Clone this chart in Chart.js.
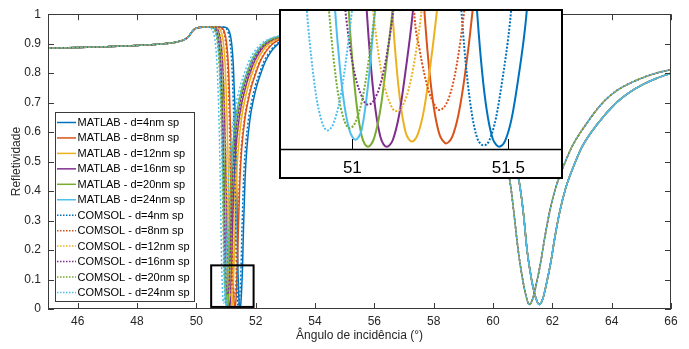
<!DOCTYPE html>
<html><head><meta charset="utf-8">
<script src="https://cdn.jsdelivr.net/npm/chart.js@4.4.0/dist/chart.umd.min.js"></script>
<style>
html,body{margin:0;padding:0;background:#fff;}
#wrap{position:relative;width:689px;height:349px;overflow:hidden;}
#main{position:absolute;left:0;top:0;}
#inset{position:absolute;left:279px;top:9px;}
</style></head><body>
<div id="wrap"><canvas id="main" width="689" height="349"></canvas><canvas id="inset" width="284" height="170"></canvas></div>
<script>
// ---------- data ----------
const xTicks = [46, 48, 50, 52, 54, 56, 58, 60, 62, 64, 66];
const yTicks = [0, 0.1, 0.2, 0.3, 0.4, 0.5, 0.6, 0.7, 0.8, 0.9, 1];
const insetTicks = [51, 51.5];
const xTitle = 'Ângulo de incidência (°)';
const yTitle = 'Refletividade';
const seriesLabels = [
  'MATLAB - d=4nm sp', 'MATLAB - d=8nm sp', 'MATLAB - d=12nm sp',
  'MATLAB - d=16nm sp', 'MATLAB - d=20nm sp', 'MATLAB - d=24nm sp',
  'COMSOL - d=4nm sp', 'COMSOL - d=8nm sp', 'COMSOL - d=12nm sp',
  'COMSOL - d=16nm sp', 'COMSOL - d=20nm sp', 'COMSOL - d=24nm sp'
];
const seriesColors = ['#0072BD', '#D95319', '#EDB120', '#7E2F8E', '#77AC30', '#4DBEEE'];

// common shoulder before the first resonance
const leftAngles = [45, 46, 47, 48, 48.8, 49.3, 49.6, 49.75, 49.85, 49.95, 50.1, 50.3];
const leftRefl   = [0.885, 0.887, 0.890, 0.894, 0.899, 0.905, 0.914, 0.925, 0.940, 0.950, 0.955, 0.957];

// first resonance: angle offsets from each curve's minimum
const dipOffsets = [-0.50, -0.42, -0.35, -0.28, -0.22, -0.17, -0.13, -0.10, -0.08, -0.065, -0.05, -0.035, -0.02, -0.01, 0,
  0.01, 0.02, 0.04, 0.06, 0.085, 0.12, 0.17, 0.23, 0.34, 0.45, 0.57, 0.70, 0.85, 1.05, 1.25, 1.45, 1.65, 1.85];
const matlabCenters = [51.47, 51.30, 51.19, 51.11, 51.05, 51.01];
const comsolCenters = [51.42, 51.28, 51.14, 51.05, 50.99, 50.92];

const matlabDip4  = [0.956, 0.952, 0.939, 0.902, 0.822, 0.685, 0.520, 0.350, 0.200, 0.125, 0.070, 0.033, 0.011, 0.005, 0.0025, 0.004, 0.009, 0.032, 0.072, 0.135, 0.275, 0.435, 0.540, 0.645, 0.707, 0.758, 0.798, 0.838, 0.873, 0.896, 0.910, 0.918, 0.923];
const matlabDip8  = [0.956, 0.952, 0.939, 0.903, 0.825, 0.690, 0.530, 0.360, 0.210, 0.130, 0.074, 0.037, 0.015, 0.009, 0.006, 0.008, 0.013, 0.037, 0.078, 0.148, 0.285, 0.440, 0.543, 0.647, 0.708, 0.759, 0.799, 0.839, 0.874, 0.897, 0.911, 0.919, 0.924];
const matlabDip12 = [0.956, 0.952, 0.940, 0.905, 0.830, 0.700, 0.550, 0.390, 0.260, 0.165, 0.095, 0.047, 0.019, 0.011, 0.008, 0.010, 0.016, 0.043, 0.090, 0.162, 0.300, 0.450, 0.550, 0.650, 0.710, 0.760, 0.800, 0.840, 0.875, 0.898, 0.912, 0.920, 0.925];
const matlabDip16 = [0.956, 0.952, 0.940, 0.905, 0.830, 0.700, 0.550, 0.390, 0.255, 0.155, 0.087, 0.040, 0.013, 0.005, 0.0025, 0.0045, 0.010, 0.037, 0.083, 0.152, 0.298, 0.450, 0.550, 0.650, 0.710, 0.760, 0.800, 0.840, 0.875, 0.898, 0.912, 0.920, 0.926];
const matlabDip20 = [0.956, 0.952, 0.941, 0.907, 0.835, 0.710, 0.565, 0.405, 0.275, 0.168, 0.095, 0.044, 0.014, 0.005, 0.0025, 0.005, 0.012, 0.043, 0.095, 0.170, 0.315, 0.460, 0.556, 0.654, 0.713, 0.762, 0.802, 0.842, 0.876, 0.899, 0.913, 0.921, 0.926];
const matlabDip24 = [0.956, 0.952, 0.940, 0.904, 0.828, 0.695, 0.540, 0.375, 0.235, 0.148, 0.088, 0.046, 0.021, 0.013, 0.010, 0.013, 0.021, 0.068, 0.140, 0.225, 0.340, 0.475, 0.565, 0.660, 0.717, 0.765, 0.804, 0.843, 0.877, 0.900, 0.914, 0.922, 0.927];
const comsolDip4  = [0.956, 0.952, 0.939, 0.902, 0.822, 0.685, 0.520, 0.350, 0.200, 0.125, 0.071, 0.034, 0.012, 0.006, 0.004, 0.005, 0.010, 0.033, 0.073, 0.136, 0.275, 0.435, 0.540, 0.645, 0.707, 0.758, 0.798, 0.838, 0.873, 0.896, 0.910, 0.918, 0.923];
const comsolDip8  = [0.956, 0.951, 0.936, 0.893, 0.805, 0.650, 0.465, 0.255, 0.140, 0.108, 0.082, 0.062, 0.050, 0.044, 0.042, 0.044, 0.048, 0.067, 0.102, 0.168, 0.290, 0.438, 0.543, 0.646, 0.708, 0.758, 0.798, 0.838, 0.873, 0.897, 0.911, 0.919, 0.924];
const comsolDip12 = [0.956, 0.951, 0.937, 0.895, 0.810, 0.660, 0.480, 0.300, 0.175, 0.125, 0.089, 0.065, 0.050, 0.043, 0.041, 0.042, 0.046, 0.064, 0.097, 0.158, 0.280, 0.430, 0.540, 0.645, 0.708, 0.758, 0.798, 0.838, 0.873, 0.897, 0.911, 0.919, 0.924];
const comsolDip16 = [0.956, 0.951, 0.937, 0.895, 0.810, 0.660, 0.480, 0.300, 0.178, 0.128, 0.094, 0.071, 0.057, 0.050, 0.048, 0.049, 0.053, 0.070, 0.101, 0.160, 0.280, 0.430, 0.540, 0.645, 0.708, 0.758, 0.798, 0.838, 0.873, 0.897, 0.911, 0.919, 0.924];
const comsolDip20 = [0.956, 0.952, 0.939, 0.902, 0.822, 0.685, 0.520, 0.350, 0.220, 0.150, 0.097, 0.058, 0.035, 0.026, 0.0225, 0.024, 0.029, 0.051, 0.090, 0.158, 0.290, 0.440, 0.545, 0.648, 0.709, 0.759, 0.799, 0.839, 0.874, 0.897, 0.911, 0.919, 0.924];
const comsolDip24 = [0.956, 0.952, 0.939, 0.903, 0.824, 0.688, 0.525, 0.355, 0.225, 0.146, 0.094, 0.055, 0.032, 0.023, 0.020, 0.022, 0.028, 0.053, 0.097, 0.170, 0.300, 0.448, 0.550, 0.652, 0.711, 0.760, 0.800, 0.840, 0.875, 0.898, 0.912, 0.920, 0.925];

// second resonance (same for every thickness)
const tailAnglesMatlab = [53.5, 54, 55, 56, 57, 58, 58.8, 59.5, 60.1, 60.6, 60.88, 61.03, 61.15, 61.30, 61.42, 61.56, 61.68, 61.80, 61.95, 62.08, 62.25, 62.45, 62.70, 63.0, 63.5, 64.16, 64.6, 65.06, 65.5, 66.0];
const tailReflMatlab   = [0.928, 0.931, 0.930, 0.923, 0.908, 0.875, 0.825, 0.75, 0.64, 0.53, 0.433, 0.32, 0.198, 0.10, 0.045, 0.015, 0.035, 0.085, 0.16, 0.24, 0.33, 0.41, 0.48, 0.55, 0.625, 0.70, 0.735, 0.762, 0.782, 0.80];
const tailAnglesComsol = [53.5, 54, 55, 56, 57, 58, 58.8, 59.4, 59.9, 60.3, 60.57, 60.70, 60.85, 61.00, 61.10, 61.22, 61.34, 61.46, 61.61, 61.74, 61.91, 62.11, 62.36, 62.66, 63.16, 63.7, 64.16, 64.6, 65.06, 65.5, 66.0];
const tailReflComsol   = [0.929, 0.932, 0.930, 0.922, 0.905, 0.870, 0.81, 0.73, 0.63, 0.52, 0.433, 0.33, 0.198, 0.10, 0.05, 0.015, 0.035, 0.085, 0.16, 0.24, 0.33, 0.41, 0.48, 0.55, 0.63, 0.70, 0.74, 0.765, 0.785, 0.80, 0.812];

// zoom rectangle (data units) and inset range
const zoomBox = [50.50, 51.93, 0.007, 0.148];
const insetRange = [50.768, 51.672, 0, 0.15];

// ---------- build ----------
const matlabDips = [matlabDip4, matlabDip8, matlabDip12, matlabDip16, matlabDip20, matlabDip24];
const comsolDips = [comsolDip4, comsolDip8, comsolDip12, comsolDip16, comsolDip20, comsolDip24];

function buildSeries(center, dip, tailA, tailR) {
  const pts = [];
  leftAngles.forEach((a, i) => pts.push({x: a, y: leftRefl[i]}));
  dipOffsets.forEach((o, i) => pts.push({x: +(center + o).toFixed(4), y: dip[i]}));
  tailA.forEach((a, i) => pts.push({x: a, y: tailR[i]}));
  return pts;
}
const allSeries = [];
for (let i = 0; i < 6; i++) allSeries.push(buildSeries(matlabCenters[i], matlabDips[i], tailAnglesMatlab, tailReflMatlab));
for (let i = 0; i < 6; i++) allSeries.push(buildSeries(comsolCenters[i], comsolDips[i], tailAnglesComsol, tailReflComsol));

function makeDatasets(width, dash) {
  return allSeries.map((pts, k) => {
    const comsol = k >= 6;
    return {
      label: seriesLabels[k],
      data: pts,
      borderColor: seriesColors[k % 6],
      backgroundColor: seriesColors[k % 6],
      borderWidth: width,
      borderDash: comsol ? dash : [],
      borderDashOffset: comsol ? (k % 6) * 0.7 : 0,
      pointRadius: 0,
      fill: false,
      tension: 0.4,
      cubicInterpolationMode: 'monotone',
      order: 11 - k
    };
  });
}

Chart.defaults.font.family = '"Liberation Sans", Arial, Helvetica, sans-serif';
Chart.defaults.color = '#262626';

const FONT = '"Liberation Sans", Arial, Helvetica, sans-serif';

const mainDecor = {
  id: 'mainDecor',
  beforeDraw(chart) {
    const c = chart.ctx;
    c.save(); c.fillStyle = '#fff'; c.fillRect(0, 0, chart.width, chart.height); c.restore();
  },
  afterDraw(chart) {
    const c = chart.ctx, a = chart.chartArea, xs = chart.scales.x, ys = chart.scales.y;
    c.save();
    c.strokeStyle = '#3a3a3a'; c.lineWidth = 1;
    c.strokeRect(Math.round(a.left) + 0.5, Math.round(a.top) + 0.5, Math.round(a.right - a.left) - 1, Math.round(a.bottom - a.top) - 1);
    c.beginPath();
    xTicks.forEach(v => {
      const px = Math.round(xs.getPixelForValue(v)) + 0.5;
      c.moveTo(px, a.bottom); c.lineTo(px, a.bottom - 6);
      c.moveTo(px, a.top); c.lineTo(px, a.top + 6);
    });
    yTicks.forEach(v => {
      const py = Math.round(ys.getPixelForValue(v)) + 0.5;
      c.moveTo(a.left, py); c.lineTo(a.left + 6, py);
      c.moveTo(a.right, py); c.lineTo(a.right - 6, py);
    });
    c.stroke();
    // zoom rectangle
    c.strokeStyle = '#000'; c.lineWidth = 2;
    const rx0 = xs.getPixelForValue(zoomBox[0]), rx1 = xs.getPixelForValue(zoomBox[1]);
    const ry0 = ys.getPixelForValue(zoomBox[3]), ry1 = ys.getPixelForValue(zoomBox[2]);
    c.strokeRect(rx0, ry0, rx1 - rx0, ry1 - ry0);
    // legend
    const lx = 55.5, ly = 112.5, lw = 139, lh = 189;
    c.fillStyle = '#fff'; c.fillRect(lx, ly, lw, lh);
    c.strokeStyle = '#3a3a3a'; c.lineWidth = 1; c.strokeRect(lx, ly, lw, lh);
    c.font = '11px ' + FONT; c.textBaseline = 'middle'; c.textAlign = 'left';
    chart.data.datasets.forEach((ds, i) => {
      const yy = 122.5 + i * 15.45;
      c.strokeStyle = ds.borderColor; c.lineWidth = 1.5;
      c.setLineDash(ds.borderDash.length ? [1.5, 1.5] : []);
      c.beginPath(); c.moveTo(57, yy); c.lineTo(76, yy); c.stroke();
      c.setLineDash([]);
      c.fillStyle = '#000';
      c.fillText(ds.label, 77.5, yy + 0.5);
    });
    c.restore();
  }
};

new Chart(document.getElementById('main'), {
  type: 'line',
  data: {datasets: makeDatasets(1.5, [2, 2])},
  options: {
    responsive: false, animation: false, devicePixelRatio: 1,
    layout: {padding: {left: 0, right: 18, top: 10, bottom: 0}},
    plugins: {legend: {display: false}, tooltip: {enabled: false}},
    scales: {
      x: {
        type: 'linear', min: 45, max: 66,
        grid: {display: false, drawTicks: false}, border: {display: false},
        afterBuildTicks: s => { s.ticks = xTicks.map(v => ({value: v})); },
        afterFit: s => { s.height = 40; },
        ticks: {font: {size: 12}, padding: 5, color: '#262626', maxRotation: 0, autoSkip: false, callback: v => String(v)},
        title: {display: true, text: xTitle, font: {size: 12}, color: '#262626', padding: {top: 0, bottom: 6}}
      },
      y: {
        type: 'linear', min: 0, max: 1,
        grid: {display: false, drawTicks: false}, border: {display: false},
        afterBuildTicks: s => { s.ticks = yTicks.map(v => ({value: v})); },
        afterFit: s => { s.width = 48; },
        ticks: {font: {size: 12}, padding: 7, color: '#262626', autoSkip: false, callback: v => String(+v.toFixed(1))},
        title: {display: true, text: yTitle, font: {size: 12}, color: '#262626', padding: {top: 9, bottom: 0}}
      }
    }
  },
  plugins: [mainDecor]
});

const insetDecor = {
  id: 'insetDecor',
  beforeDraw(chart) {
    const c = chart.ctx;
    c.save(); c.fillStyle = '#fff'; c.fillRect(0, 0, chart.width, chart.height); c.restore();
  },
  afterDraw(chart) {
    const c = chart.ctx, a = chart.chartArea, xs = chart.scales.x;
    c.save();
    c.strokeStyle = '#000';
    c.lineWidth = 1.4;
    c.beginPath(); c.moveTo(0, a.bottom + 0.5); c.lineTo(chart.width, a.bottom + 0.5); c.stroke();
    c.lineWidth = 1;
    c.beginPath();
    insetTicks.forEach(v => {
      const px = Math.round(xs.getPixelForValue(v)) + 0.5;
      c.moveTo(px, a.bottom); c.lineTo(px, a.bottom - 10);
    });
    c.stroke();
    c.lineWidth = 2;
    c.strokeRect(1, 1, chart.width - 2, chart.height - 2);
    c.restore();
  }
};

new Chart(document.getElementById('inset'), {
  type: 'line',
  data: {datasets: makeDatasets(2, [2, 1.6])},
  options: {
    responsive: false, animation: false, devicePixelRatio: 1,
    layout: {padding: {left: 1, right: 1, top: 1, bottom: 0}},
    plugins: {legend: {display: false}, tooltip: {enabled: false}},
    scales: {
      x: {
        type: 'linear', min: insetRange[0], max: insetRange[1],
        grid: {display: false, drawTicks: false}, border: {display: false},
        afterBuildTicks: s => { s.ticks = insetTicks.map(v => ({value: v})); },
        afterFit: s => { s.height = 30; },
        ticks: {font: {size: 17}, padding: 9, color: '#000', maxRotation: 0, autoSkip: false, callback: v => String(v)}
      },
      y: {type: 'linear', min: insetRange[2], max: insetRange[3], display: false}
    }
  },
  plugins: [insetDecor]
});
</script>
</body></html>
